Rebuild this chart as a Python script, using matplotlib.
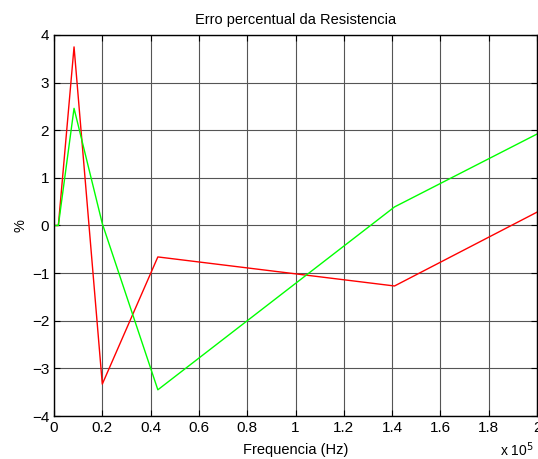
import matplotlib
matplotlib.use("Agg")
import matplotlib.pyplot as plt
import numpy as np

# Frequencies (Hz) and percentage errors of the resistance
freq = np.array([0, 1800, 8300, 20000, 43000, 141000, 200000])
erro_vermelho = [0, 0, 3.75, -3.33, -0.66, -1.27, 0.28]
erro_verde = [0, 0, 2.46, 0.04, -3.45, 0.39, 1.92]

x_ticks = [0, 0.2, 0.4, 0.6, 0.8, 1, 1.2, 1.4, 1.6, 1.8, 2]
x_labels = ["0", "0.2", "0.4", "0.6", "0.8", "1", "1.2", "1.4", "1.6", "1.8", "2"]
y_ticks = [-4, -3, -2, -1, 0, 1, 2, 3, 4]


def main():
    plt.rcParams["font.family"] = ["Liberation Sans", "DejaVu Sans"]
    fig = plt.figure(figsize=(5.38, 4.59), dpi=100)
    ax = fig.add_axes([54 / 538, 43 / 459, 483 / 538, 381 / 459])

    ax.plot(freq / 1e5, erro_vermelho, color="#ff0000", linewidth=1)
    ax.plot(freq / 1e5, erro_verde, color="#00ff00", linewidth=1)

    ax.set_xlim(0, 2)
    ax.set_ylim(-4, 4)
    ax.set_xticks(x_ticks, labels=x_labels)
    ax.set_yticks(y_ticks)
    ax.tick_params(direction="in", top=True, right=True, labelsize=11, length=4)
    ax.grid(True, color="#555555", linewidth=0.8)
    for s in ax.spines.values():
        s.set_linewidth(1)

    ax.set_title("Erro percentual da Resistencia", fontsize=10.5, pad=8)
    ax.set_xlabel("Frequencia (Hz)", fontsize=10.5, labelpad=6)
    ax.set_ylabel("%", fontsize=10.5, labelpad=3)
    fig.text(500 / 538, 3 / 459, r"x 10$^{5}$", fontsize=10)

    fig.savefig("out.png", dpi=100)


if __name__ == "__main__":
    main()
